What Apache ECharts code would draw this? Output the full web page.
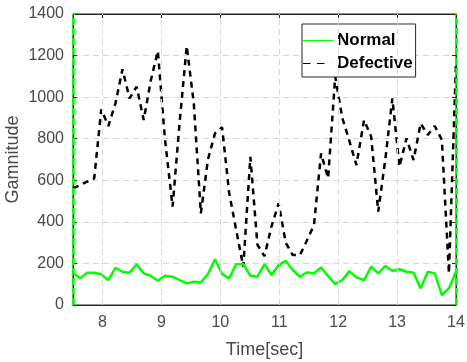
<!DOCTYPE html>
<html>
<head>
<meta charset="utf-8">
<script src="https://cdn.jsdelivr.net/npm/echarts@6/dist/echarts.min.js"></script>
<style>
html,body{margin:0;padding:0;background:#fff;}
#c{width:467px;height:362px;}
</style>
</head>
<body>
<div id="c"></div>
<script>
// Time axis (seconds)
var time = [7.50, 7.62, 7.74, 7.86, 7.98, 8.10, 8.22, 8.34, 8.46, 8.58,
            8.70, 8.82, 8.94, 9.06, 9.19, 9.31, 9.43, 9.55, 9.67, 9.79,
            9.91, 10.03, 10.15, 10.27, 10.39, 10.51, 10.63, 10.75, 10.87, 10.99,
            11.11, 11.23, 11.35, 11.47, 11.59, 11.71, 11.83, 11.95, 12.07, 12.19,
            12.31, 12.44, 12.56, 12.68, 12.80, 12.92, 13.04, 13.16, 13.28, 13.40,
            13.52, 13.64, 13.76, 13.88, 14.00];
// Normal series
var normal = [155, 128, 155, 155, 148, 120, 179, 160, 155, 196,
              152, 141, 117, 141, 136, 120, 104, 112, 109, 149,
              220, 149, 128, 196, 196, 141, 136, 197, 144, 192,
              212, 168, 136, 157, 152, 181, 139, 101, 120, 163,
              133, 120, 184, 152, 188, 165, 172, 160, 155, 80,
              160, 152, 48, 80, 160];
// Defective series
var defective = [561, 577, 593, 609, 941, 861, 970, 1134, 994, 1050,
                 890, 1080, 1222, 800, 473, 880, 1246, 970, 441, 700,
                 826, 855, 540, 360, 184, 713, 290, 235, 380, 489,
                 300, 240, 240, 310, 385, 730, 610, 1100, 900, 790,
                 673, 890, 810, 449, 700, 994, 665, 802, 697, 874,
                 818, 861, 794, 152, 1163];
// Axis ranges / ticks
var xMin = 7.5, xMax = 14, xInterval = 0.5;
var xTicks = [8, 9, 10, 11, 12, 13, 14];
var yMin = 0, yMax = 1400, yInterval = 200;
var seriesNames = ['Normal', 'Defective'];
var xName = 'Time[sec]', yName = 'Gamnitude';

function pairs(xs, ys){ return xs.map(function(x,i){ return [x, ys[i]]; }); }

var chart = echarts.init(document.getElementById('c'), null, {renderer:'canvas'});
var axisColor = '#262626';
var labelColor = '#4a4a4a';
var gridColor = '#d9d9d9';
var font = 'Liberation Sans, Arial, Helvetica, sans-serif';

var option = {
  animation: false,
  backgroundColor: '#fff',
  textStyle: {fontFamily: font},
  grid: {left: 73, right: 11, top: 14, bottom: 57, outerBoundsMode: 'none', containLabel: false,
         show: true, borderColor: axisColor, borderWidth: 1, backgroundColor: '#fff'},
  legend: {
    data: [
      {name: seriesNames[0], icon: 'path://M0,0h30v1h-30z'},
      {name: seriesNames[1], icon: 'path://M2,0h7v1h-7zM15,0h7v1h-7zM29.9,0h0.1v1h-0.1z'}
    ],
    orient: 'vertical',
    left: 302, top: 24,
    itemWidth: 30, itemHeight: 3, itemGap: 6,
    padding: [8, 3, 5, 1],
    backgroundColor: '#fff',
    borderColor: '#262626', borderWidth: 1,
    borderRadius: 0,
    textStyle: {fontFamily: font, fontWeight: 'bold', fontSize: 17, color: '#000', padding: [0,0,0,-1]}
  },
  xAxis: [{
    type: 'value', min: xMin, max: xMax, interval: xInterval,
    name: xName, nameLocation: 'middle', nameGap: 36,
    nameTextStyle: {fontSize: 18, color: labelColor, fontFamily: font},
    axisLine: {show: true, onZero: false, lineStyle: {color: axisColor}},
    axisTick: {show: true, inside: true, length: 4, lineStyle: {color: axisColor}, customValues: xTicks},
    axisLabel: {fontSize: 16, color: labelColor, margin: 10, customValues: xTicks, formatter: function(v){ return String(v); }},
    splitLine: {show: false}
  },{
    type: 'value', min: xMin, max: xMax, interval: xInterval, position: 'top',
    axisLine: {show: true, onZero: false, lineStyle: {color: axisColor}},
    axisTick: {show: true, inside: true, length: 4, lineStyle: {color: axisColor}, customValues: xTicks},
    axisLabel: {show: false}, splitLine: {show: false}
  }],
  yAxis: [{
    type: 'value', min: yMin, max: yMax, interval: yInterval,
    name: yName, nameLocation: 'middle', nameGap: 51, nameMoveOverlap: false,
    nameTextStyle: {fontSize: 18, color: labelColor, fontFamily: font},
    axisLine: {show: true, lineStyle: {color: axisColor}},
    axisTick: {show: true, inside: true, length: 4, lineStyle: {color: axisColor}},
    axisLabel: {fontSize: 16, color: labelColor, margin: 9, formatter: function(v){ return String(v); }},
    splitLine: {show: true, lineStyle: {color: gridColor, type: [6, 4]}}
  },{
    type: 'value', min: yMin, max: yMax, interval: yInterval, position: 'right',
    axisLine: {show: true, lineStyle: {color: axisColor}},
    axisTick: {show: true, inside: true, length: 4, lineStyle: {color: axisColor}},
    axisLabel: {show: false}, splitLine: {show: false}
  }],
  series: [{
    name: 'xgrid', type: 'line', data: [], z: 1, silent: true,
    markLine: {
      silent: true, symbol: 'none', label: {show: false}, animation: false,
      lineStyle: {color: gridColor, width: 1, type: [6, 4]},
      data: xTicks.slice(0, xTicks.length - 1).map(function(v){ return {xAxis: v}; })
    }
  },{
    name: seriesNames[0], type: 'line', data: pairs(time, normal),
    showSymbol: false, symbol: 'none',
    lineStyle: {color: '#00ff00', width: 2.5},
    itemStyle: {color: '#00ff00'},
    z: 3,
    markLine: {
      silent: true, symbol: 'none', label: {show: false},
      lineStyle: {color: '#00ff00', width: 2.5, type: [7, 3]},
      data: [{xAxis: xMin}, {xAxis: xMax}],
      animation: false
    }
  },{
    name: seriesNames[1], type: 'line', data: pairs(time, defective),
    showSymbol: false, symbol: 'none',
    lineStyle: {color: '#000', width: 2.5, type: [6, 5]},
    itemStyle: {color: '#000'},
    z: 2
  }]
};
chart.setOption(option);
</script>
</body>
</html>
